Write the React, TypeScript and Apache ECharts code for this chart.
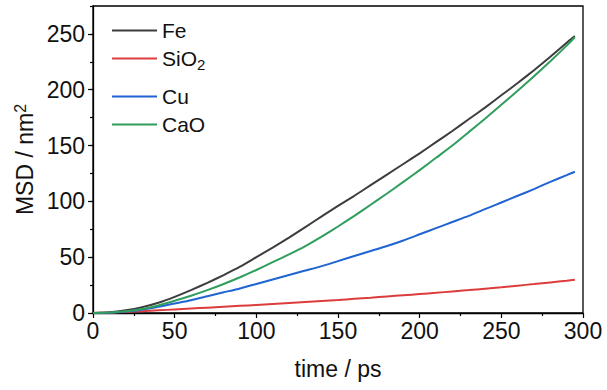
import React, { useEffect, useRef } from 'react';
import * as echarts from 'echarts';

const time = [0, 10, 20, 30, 40, 50, 60, 70, 80, 90, 100, 110, 120, 130, 140, 150, 160, 170, 180, 190, 200, 210, 220, 230, 240, 250, 260, 270, 280, 290, 295];
const fe = [0, 0.6, 2.4, 5.2, 9.2, 14.5, 20.5, 27, 34, 41.5, 50, 58.5, 67.5, 77, 86.5, 96, 105, 114.5, 124, 133.5, 143, 153, 163, 173.5, 184, 195, 206, 217.5, 229.5, 242, 248];
const sio2 = [0, 0.3, 0.9, 1.6, 2.4, 3.2, 4, 4.8, 5.6, 6.4, 7.2, 8.1, 9, 9.9, 10.8, 11.7, 12.7, 13.7, 14.8, 15.9, 17, 18.1, 19.3, 20.5, 21.8, 23.1, 24.5, 25.9, 27.4, 28.9, 29.8];
const cu = [0, 0.3, 1.3, 3, 5.5, 8.5, 11.5, 15, 18.5, 22, 26, 30, 34, 38, 42, 46.5, 51, 55.5, 60, 65, 70.5, 76, 81.5, 87, 93, 99, 105, 111, 117.5, 123.5, 126.5];
const cao = [0, 0.4, 1.6, 3.6, 6.8, 11, 15.5, 20.5, 26, 32, 38.5, 45.5, 52.5, 60, 68.5, 77.5, 87, 97, 107, 117.5, 128, 139, 150, 162, 174, 186.5, 199, 212, 225.5, 239.5, 247];

const seriesNames = ['Fe', 'SiO2', 'Cu', 'CaO'];
const seriesValues = [fe, sio2, cu, cao];
const seriesColors = ['#3d3d3d', '#dc3c3c', '#1f64d2', '#2f9e5c'];
const yTickLabels = [0, 50, 100, 150, 200, 250];
const xTitle = 'time / ps';
const yTitle = 'MSD / nm{sup|2}';

const FONT = '"Liberation Sans", Arial, sans-serif';
const legendTops = [15, 43, 81, 109];

export default function App() {
  const ref = useRef<HTMLDivElement>(null);
  useEffect(() => {
    const chart = echarts.init(ref.current!, null, { renderer: 'svg' });
    const option: any = {
      animation: false,
      backgroundColor: '#fff',
      grid: { left: 93, right: 24, top: 6, bottom: 77, show: true, borderColor: '#000', borderWidth: 1.3, backgroundColor: 'transparent' },
      legend: seriesNames.map((n, i) => ({
        data: [{ name: n, icon: 'rect', itemStyle: { color: seriesColors[i] } }],
        left: 107,
        top: legendTops[i],
        orient: 'vertical',
        itemWidth: 45,
        itemHeight: 2,
        formatter: (name: string) => (name === 'SiO2' ? 'SiO{sub|2}' : name),
        textStyle: {
          fontFamily: FONT,
          fontSize: 21,
          color: '#111',
          rich: { sub: { fontFamily: FONT, fontSize: 15, color: '#111', padding: [12, 0, 0, 0] } },
        },
      })),
      xAxis: {
        type: 'value',
        min: 0,
        max: 300,
        interval: 50,
        axisLine: { show: true, lineStyle: { color: '#000', width: 1.3 } },
        axisTick: { show: true, inside: false, length: 5, lineStyle: { color: '#000', width: 1.2 } },
        minorTick: { show: true, splitNumber: 2, length: 3, lineStyle: { color: '#000', width: 1.2 } },
        axisLabel: { margin: 6, fontFamily: FONT, fontSize: 23, color: '#111' },
        splitLine: { show: false },
        name: xTitle,
        nameLocation: 'middle',
        nameGap: 44,
        nameTextStyle: { fontFamily: FONT, fontSize: 23, color: '#111' },
      },
      yAxis: [
        {
          type: 'value',
          min: 0,
          max: 275,
          interval: 25,
          position: 'left',
          axisLine: { show: true, lineStyle: { color: '#000', width: 1.3 } },
          axisTick: { show: true, inside: false, length: 3, lineStyle: { color: '#000', width: 1.2 } },
          axisLabel: { show: false },
          splitLine: { show: false },
          name: yTitle,
          nameLocation: 'middle',
          nameGap: 55,
          nameRotate: 90,
          nameTextStyle: {
            fontFamily: FONT,
            fontSize: 23,
            color: '#111',
            rich: { sup: { fontFamily: FONT, fontSize: 16, color: '#111', padding: [0, 0, 10, 0] } },
          },
        },
        {
          type: 'value',
          min: 0,
          max: 275,
          interval: 25,
          position: 'left',
          axisLine: { show: false },
          axisTick: { show: true, inside: false, length: 5, customValues: yTickLabels, lineStyle: { color: '#000', width: 1.2 } },
          axisLabel: { show: true, customValues: yTickLabels, margin: 8, fontFamily: FONT, fontSize: 23, color: '#111' },
          splitLine: { show: false },
        },
      ],
      series: seriesNames.map((n, i) => ({
        name: n,
        type: 'line',
        yAxisIndex: 0,
        symbol: 'none',
        smooth: 0.2,
        lineStyle: { color: seriesColors[i], width: 2 },
        itemStyle: { color: seriesColors[i] },
        data: time.map((t, j) => [t, seriesValues[i][j]]),
      })),
    };
    chart.setOption(option);
    return () => chart.dispose();
  }, []);
  return <div ref={ref} style={{ position: 'fixed', left: 0, top: 0, width: 607, height: 390 }} />;
}
